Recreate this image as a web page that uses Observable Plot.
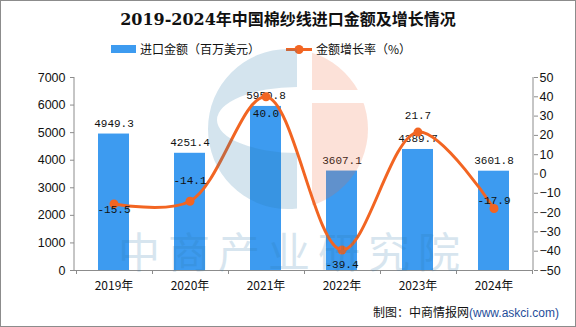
<!DOCTYPE html>
<html><head><meta charset="utf-8">
<script src="https://cdn.jsdelivr.net/npm/d3@7"></script>
<script src="https://cdn.jsdelivr.net/npm/@observablehq/plot@0.6"></script>
<style>
body{margin:0;background:#fff;}
#wrap{position:relative;width:576px;height:327px;overflow:hidden;background:#fff;font-family:"Noto Sans CJK SC",sans-serif;}
#border{position:absolute;left:0;top:0;width:576px;height:327px;box-sizing:border-box;border:1px solid #8c8c8c;pointer-events:none;}
#title{position:absolute;left:0;top:10px;width:576px;text-align:center;font-size:16px;font-weight:bold;line-height:20px;color:#111;font-family:"DejaVu Serif","Noto Sans CJK SC",serif;}
.leg{position:absolute;top:41px;font-size:12px;line-height:16px;color:#111;white-space:nowrap;}
#chart{position:absolute;left:0;top:62px;}
#caption{position:absolute;right:17px;top:304px;font-size:12px;line-height:16px;color:#111;white-space:nowrap;}
#caption span{color:#1f4e9a;font-family:"Liberation Sans",Arial,sans-serif;}
#wm{position:absolute;left:0;top:0;pointer-events:none;}
#wmtext{position:absolute;left:118px;top:233px;font-size:42px;line-height:34px;letter-spacing:8px;color:#2a76a8;opacity:0.18;white-space:nowrap;pointer-events:none;}
</style></head>
<body>
<div id="wrap">
  <div id="title">2019-2024年中国棉纱线进口金额及增长情况</div>
  <svg class="leg" style="left:111px;top:45px" width="26" height="9"><rect width="25" height="8" fill="#3d9bf0"/></svg>
  <div class="leg" style="left:140px">进口金额（百万美元）</div>
  <svg class="leg" style="left:285px;top:44px" width="28" height="11"><line x1="1" y1="5.5" x2="27" y2="5.5" stroke="#f26522" stroke-width="3"/><circle cx="14" cy="5.5" r="4.5" fill="#f26522"/></svg>
  <div class="leg" style="left:316px">金额增长率（%）</div>
  <div id="chart"></div>
  <div id="caption">制图：中商情报网<span>(www.askci.com)</span></div>
  <div id="wmtext">中商产业研究院</div>
  <svg id="wm" width="576" height="327">
    <defs>
      <clipPath id="cl"><rect x="0" y="0" width="297" height="327"/></clipPath>
      <clipPath id="cr"><rect x="312" y="0" width="264" height="90"/><rect x="312" y="103" width="264" height="224"/></clipPath>
    </defs>
    <path clip-path="url(#cl)" fill-rule="evenodd" d="M208,129 a80,80 0 1,0 160,0 a80,80 0 1,0 -160,0 Z M217,120 a80,33 0 1,0 160,0 a80,33 0 1,0 -160,0 Z" fill="#2a76a8" fill-opacity="0.2"/>
    <circle clip-path="url(#cr)" cx="288" cy="129" r="80" fill="#ef6a3a" fill-opacity="0.2"/>
  </svg>
  <div id="border"></div>
</div>
<script>
const years = ["2019年","2020年","2021年","2022年","2023年","2024年"];
const amounts = [4949.3, 4251.4, 5950.8, 3607.1, 4389.7, 3601.8];
const rates = [-15.5, -14.1, 40.0, -39.4, 21.7, -17.9];
const leftTicks = [0,1000,2000,3000,4000,5000,6000,7000];
const rightTicks = [-50,-40,-30,-20,-10,0,10,20,30,40,50];

const data = years.map((year, i) => ({year, amount: amounts[i], rate: rates[i]}));
const YMAX = 7000, RMIN = -50, RMAX = 50;
const rateToY = r => (r - RMIN) / (RMAX - RMIN) * YMAX;
const yToRate = v => Math.round(v / YMAX * (RMAX - RMIN) + RMIN);

// label placement (style only)
const rateDy = {"2019年": 6, "2020年": -21, "2021年": 17, "2022年": 14, "2023年": -17, "2024年": -8};
const BAR = "#3d9bf0", LINE = "#f26522", AXIS = "#8c8c8c";
const mono = "Liberation Mono, DejaVu Sans Mono, monospace";

function axesLines(index, scales, values, dims) {
  const g = d3.create("svg:g");
  const x = scales.x;
  const l = dims.marginLeft, r = dims.width - dims.marginRight;
  const t = dims.marginTop, b = dims.height - dims.marginBottom;
  g.append("line").attr("x1", l).attr("x2", l).attr("y1", t).attr("y2", b).attr("stroke", AXIS);
  g.append("line").attr("x1", r).attr("x2", r).attr("y1", t).attr("y2", b).attr("stroke", AXIS);
  g.append("line").attr("x1", l).attr("x2", r).attr("y1", b + 0.5).attr("y2", b + 0.5).attr("stroke", AXIS);
  const step = x(years[1]) - x(years[0]);
  const bw = x.bandwidth ? x.bandwidth() : 0;
  const bounds = [x(years[0]) + bw / 2 - step / 2].concat(years.map(y => x(y) + bw / 2 + step / 2));
  bounds.forEach(p => {
    g.append("line").attr("x1", Math.round(p) + 0.5).attr("x2", Math.round(p) + 0.5)
      .attr("y1", b).attr("y2", b + 4).attr("stroke", AXIS);
  });
  return g.node();
}

const chart = Plot.plot({
  width: 576,
  height: 240,
  marginLeft: 74,
  marginRight: 43,
  marginTop: 15,
  marginBottom: 32,
  style: {background: "transparent", overflow: "visible"},
  x: {domain: years, paddingInner: 0.59, paddingOuter: 0.295, axis: null},
  y: {domain: [0, YMAX], axis: null},
  marks: [
    Plot.barY(data, {x: "year", y: "amount", fill: BAR}),
    Plot.axisY(leftTicks, {anchor: "left", tickSize: 4, tickPadding: 5, stroke: AXIS, fill: "#111",
      fontSize: 12.5, fontFamily: "Liberation Sans, Arial, sans-serif", tickFormat: d => String(d), label: null}),
    Plot.axisY(rightTicks.map(rateToY), {anchor: "right", tickSize: 4, tickPadding: 2, stroke: AXIS, fill: "#111",
      fontSize: 12.5, fontFamily: "Liberation Sans, Arial, sans-serif",
      tickFormat: v => { const r = yToRate(v); return r < 0 ? "\u2212" + Math.abs(r) : String(r); }, label: null}),
    Plot.axisX(years, {anchor: "bottom", tickSize: 0, tickPadding: 11, fill: "#111", fontSize: 12,
      fontFamily: "Noto Sans CJK SC, sans-serif", label: null}),
    axesLines,
    Plot.text(data, {x: "year", y: "amount", text: d => d.amount.toFixed(1), dy: -11,
      fontSize: 11, fontFamily: mono, fill: "#111"}),
    Plot.line(data, {x: "year", y: d => rateToY(d.rate), stroke: LINE, strokeWidth: 3, curve: "catmull-rom"}),
    Plot.dot(data, {x: "year", y: d => rateToY(d.rate), r: 4.5, fill: LINE, stroke: "none"}),
    ...years.map(yr => Plot.text(data.filter(d => d.year === yr), {
      x: "year", y: d => rateToY(d.rate), text: d => d.rate.toFixed(1), dy: rateDy[yr],
      fontSize: 11, fontFamily: mono, fill: "#111"}))
  ]
});
document.getElementById("chart").appendChild(chart);
</script>
</body></html>
